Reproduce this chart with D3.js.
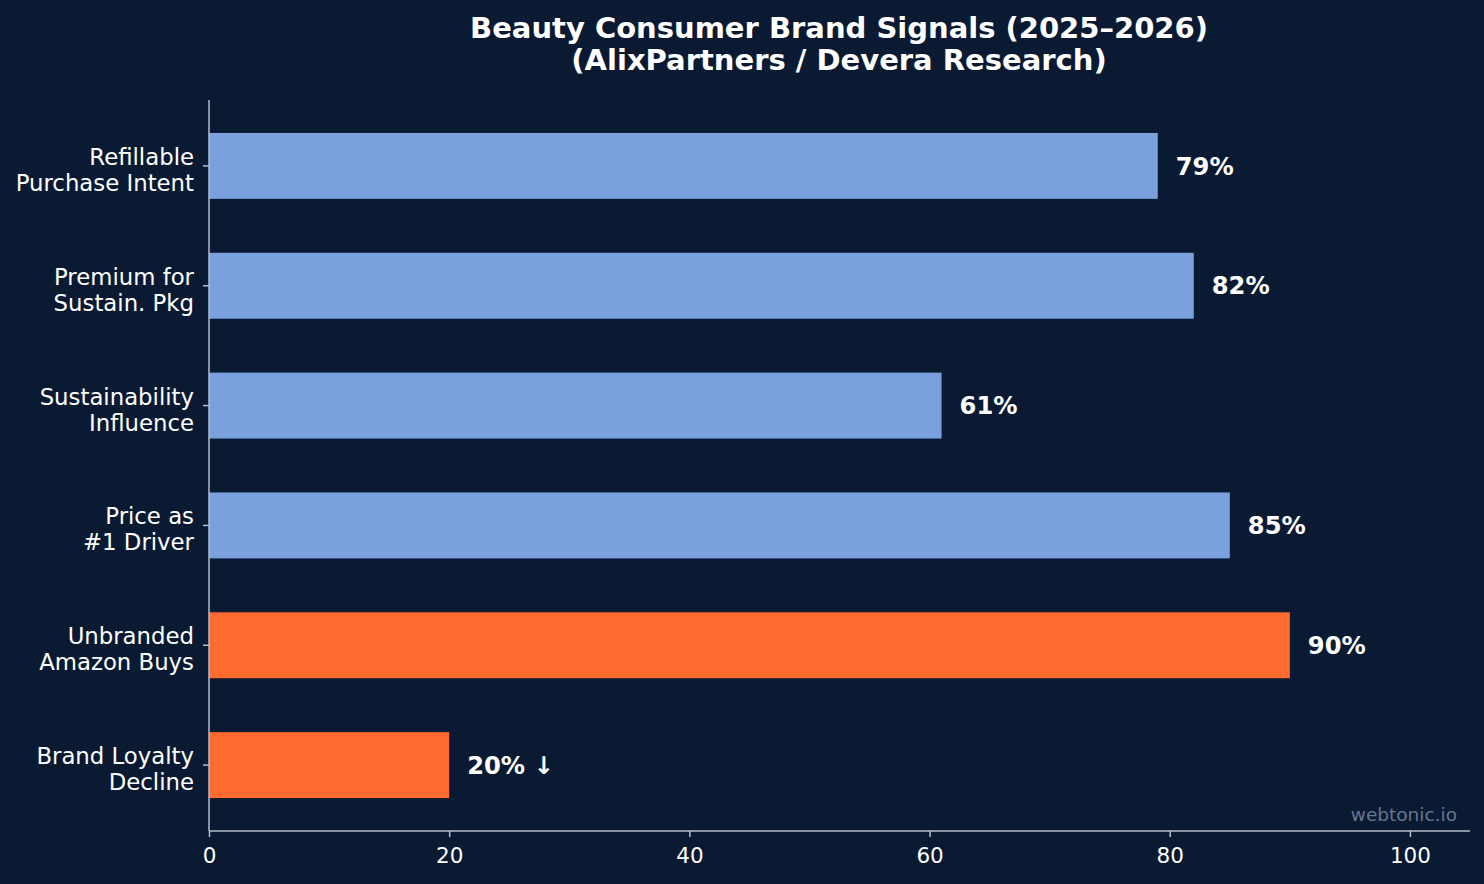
<!DOCTYPE html>
<html>
<head>
<meta charset="utf-8">
<script src="https://cdn.jsdelivr.net/npm/d3@7"></script>
<style>
  html, body { margin: 0; padding: 0; background: #0b1a33; }
  svg { display: block; font-family: "DejaVu Sans", sans-serif; }
</style>
</head>
<body>
<svg id="chart" width="1484" height="884"></svg>
<script>
// ── Data ──
const categories = [
    ["Refillable", "Purchase Intent"],
    ["Premium for", "Sustain. Pkg"],
    ["Sustainability", "Influence"],
    ["Price as", "#1 Driver"],
    ["Unbranded", "Amazon Buys"],
    ["Brand Loyalty", "Decline"]
];
const values = [79, 82, 61, 85, 90, 20];
const valueLabels = ["79%", "82%", "61%", "85%", "90%", "20% \u2193"];
const highlight = [false, false, false, false, true, true];
const xTicks = [0, 20, 40, 60, 80, 100];

const W = 1484, H = 884;
const margin = { top: 100, right: 14, bottom: 53, left: 209 };
const BLUE = "#7aa0de", ORANGE = "#ff6b2e", AXIS = "#b4bdca";

const svg = d3.select("#chart");
svg.append("rect").attr("width", W).attr("height", H).attr("fill", "#0b1a33");

const x = d3.scaleLinear().domain([0, 105]).range([margin.left, W - margin.right]);
const y = d3.scaleBand()
    .domain(d3.range(categories.length))
    .range([margin.top, H - margin.bottom])
    .paddingInner(0.45)
    .paddingOuter(0.275);

// ── Bars ──
svg.selectAll(".bar")
    .data(values)
    .enter().append("rect")
    .attr("class", "bar")
    .attr("x", x(0))
    .attr("y", (d, i) => y(i))
    .attr("width", d => x(d) - x(0))
    .attr("height", y.bandwidth())
    .attr("fill", (d, i) => highlight[i] ? ORANGE : BLUE);

// value labels
svg.selectAll(".val")
    .data(values)
    .enter().append("text")
    .attr("class", "val")
    .attr("x", d => x(d + 1.5))
    .attr("y", (d, i) => y(i) + y.bandwidth() / 2)
    .attr("dy", "0.36em")
    .attr("fill", "#ffffff")
    .attr("font-size", 24.2)
    .attr("font-weight", "bold")
    .text((d, i) => valueLabels[i]);

// ── Axes ──
const xAxis = svg.append("g")
    .attr("transform", `translate(0,${H - margin.bottom})`)
    .call(d3.axisBottom(x).tickValues(xTicks).tickSize(6).tickPadding(11));
xAxis.select(".domain").attr("stroke", AXIS).attr("stroke-width", 1.5)
    .attr("d", `M${x(0)},0H${W - margin.right}`);
xAxis.selectAll(".tick line").attr("stroke", AXIS).attr("stroke-width", 1.5);
xAxis.selectAll(".tick text").attr("fill", "#ffffff").attr("font-size", 21.5)
    .attr("font-family", "DejaVu Sans");

const yAxis = svg.append("g")
    .attr("transform", `translate(${margin.left},0)`)
    .call(d3.axisLeft(y).tickSize(6).tickFormat(""));
yAxis.select(".domain").attr("stroke", AXIS).attr("stroke-width", 1.5)
    .attr("d", `M0,${margin.top}V${H - margin.bottom}`);
yAxis.selectAll(".tick line").attr("stroke", AXIS).attr("stroke-width", 1.5);

// two-line category labels
yAxis.selectAll(".tick").each(function (d) {
    const t = d3.select(this).append("text")
        .attr("fill", "#ffffff")
        .attr("font-size", 22.8)
        .attr("font-family", "DejaVu Sans")
        .attr("text-anchor", "end");
    categories[d].forEach((line, k) => {
        t.append("tspan").attr("x", -15).attr("y", k === 0 ? -1 : 25).text(line);
    });
});

// ── Title ──
const title = svg.append("text")
    .attr("text-anchor", "middle")
    .attr("fill", "#ffffff")
    .attr("font-size", 29)
    .attr("font-weight", "bold");
title.append("tspan").attr("x", 839).attr("y", 38).text("Beauty Consumer Brand Signals (2025\u20132026)");
title.append("tspan").attr("x", 839).attr("y", 70).text("(AlixPartners / Devera Research)");

// watermark
svg.append("text")
    .attr("x", 1457)
    .attr("y", 821)
    .attr("text-anchor", "end")
    .attr("fill", "#66768d")
    .attr("font-size", 18.5)
    .text("webtonic.io");
</script>
</body>
</html>
